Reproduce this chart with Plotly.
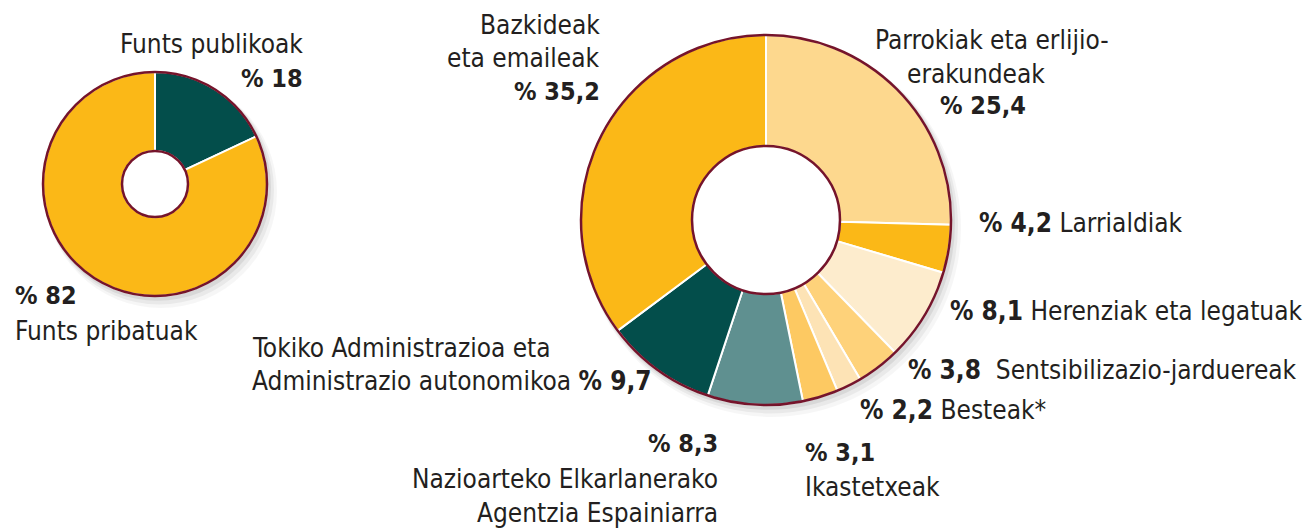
import plotly.graph_objects as go

W, H = 1307, 530

# ---- data ----
left_labels = ["Funts publikoak", "Funts pribatuak"]
left_values = [18, 82]
left_colors = ["#034E4B", "#FBB817"]

right_labels = [
    "Parrokiak eta erlijio-erakundeak",
    "Larrialdiak",
    "Herenziak eta legatuak",
    "Sentsibilizazio-jarduereak",
    "Besteak*",
    "Ikastetxeak",
    "Nazioarteko Elkarlanerako Agentzia Espainiarra",
    "Tokiko Administrazioa eta Administrazio autonomikoa",
    "Bazkideak eta emaileak",
]
right_values = [25.4, 4.2, 8.1, 3.8, 2.2, 3.1, 8.3, 9.7, 35.2]
right_colors = ["#FDD88E", "#FBB817", "#FDECCD", "#FED27A", "#FDE3B5",
                "#FDC962", "#5F9090", "#034E4B", "#FBB817"]

MAROON = "#75142B"
TEXT = "#231F20"
FONT = "Liberation Sans Narrow, DejaVu Sans Condensed, Arial Narrow, sans-serif"


def pct(v):
    return ("% " + f"{v:g}").replace(".", ",")


def px(x):
    return x / W


def py(y):
    return 1 - y / H


# geometry (pixels)
L_CX, L_CY, L_R, L_HOLE = 155, 184, 112, 33
R_CX, R_CY, R_R, R_HOLE = 766, 220, 185, 74

fig = go.Figure()

fig.add_trace(go.Pie(
    labels=left_labels, values=left_values, sort=False, direction="clockwise",
    rotation=0, hole=L_HOLE / L_R, textinfo="none", hoverinfo="label+value",
    marker=dict(colors=left_colors, line=dict(color="white", width=2)),
    domain=dict(x=[px(L_CX - L_R), px(L_CX + L_R)], y=[py(L_CY + L_R), py(L_CY - L_R)]),
    showlegend=False,
))

fig.add_trace(go.Pie(
    labels=right_labels, values=right_values, sort=False, direction="clockwise",
    rotation=0, hole=R_HOLE / R_R, textinfo="none", hoverinfo="label+value",
    marker=dict(colors=right_colors, line=dict(color="white", width=2)),
    domain=dict(x=[px(R_CX - R_R), px(R_CX + R_R)], y=[py(R_CY + R_R), py(R_CY - R_R)]),
    showlegend=False,
))

shapes = []


def circle(cx, cy, r, **kw):
    return dict(type="circle", xref="paper", yref="paper",
                x0=px(cx - r), x1=px(cx + r), y0=py(cy + r), y1=py(cy - r), **kw)


# soft drop shadows
for (cx, cy, r) in [(L_CX, L_CY, L_R), (R_CX, R_CY, R_R)]:
    for k, op in [(10, 0.035), (7, 0.05), (4, 0.07)]:
        shapes.append(circle(cx + k * 0.6, cy + k * 0.8, r + k * 0.4, layer="below",
                             fillcolor="#000000", opacity=op, line=dict(width=0)))

# maroon outlines (holes filled white)
for (cx, cy, r, h) in [(L_CX, L_CY, L_R, L_HOLE), (R_CX, R_CY, R_R, R_HOLE)]:
    shapes.append(circle(cx, cy, r, layer="above", line=dict(color=MAROON, width=2.5)))
    shapes.append(circle(cx, cy, h, layer="above", fillcolor="white",
                         line=dict(color=MAROON, width=2.5)))

annotations = []
BOLD_SIZE = 25


def txt(text, x, y, anchor="left", bold=False, size=26):
    if bold:
        text = "<b>" + text + "</b>"
        size = BOLD_SIZE
    annotations.append(dict(
        text=text, x=px(x), y=py(y), xref="paper", yref="paper",
        xanchor=anchor, yanchor="middle", showarrow=False,
        font=dict(family=FONT, size=size, color=TEXT),
    ))


def b(v):
    return "<b>" + pct(v) + "</b>"


# left donut labels
txt("Funts publikoak", 305, 44, "right")
txt(pct(left_values[0]), 305, 79, "right", bold=True)
txt(pct(left_values[1]), 13, 295, "left", bold=True)
txt("Funts pribatuak", 13, 331, "left")

# right donut labels
txt("Bazkideak", 602, 25, "right")
txt("eta emaileak", 602, 58, "right")
txt(pct(right_values[8]), 602, 92, "right", bold=True)

txt("Parrokiak eta erlijio-", 873, 40)
txt("erakundeak", 905, 74)
txt(pct(right_values[0]), 938, 106, bold=True)

txt(b(right_values[1]) + " Larrialdiak", 977, 223)
txt(b(right_values[2]) + " Herenziak eta legatuak", 948, 311)
txt(b(right_values[3]) + "  Sentsibilizazio-jarduereak", 906, 370)
txt(b(right_values[4]) + " Besteak*", 858, 410)
txt(pct(right_values[5]), 803, 452, bold=True)
txt("Ikastetxeak", 803, 487)

txt(pct(right_values[6]), 720, 443, "right", bold=True)
txt("Nazioarteko Elkarlanerako", 720, 479, "right")
txt("Agentzia Espainiarra", 720, 513, "right")

txt("Tokiko Administrazioa eta", 250, 348)
txt("Administrazio autonomikoa " + b(right_values[7]), 250, 381)

fig.update_layout(
    width=W, height=H, autosize=False,
    margin=dict(l=0, r=0, t=0, b=0),
    paper_bgcolor="white", plot_bgcolor="white",
    shapes=shapes, annotations=annotations,
    showlegend=False,
)

fig.write_html("out.html", config={"displayModeBar": False},
               post_script="document.body.style.margin='0';")
